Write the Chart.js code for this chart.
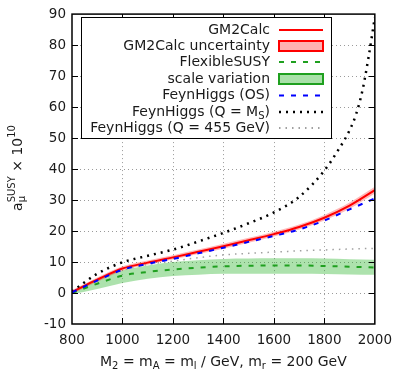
<!DOCTYPE html>
<html>
<head>
<meta charset="utf-8">
<script src="https://cdn.jsdelivr.net/npm/chart.js@4.4.1/dist/chart.umd.min.js"></script>
<style>
  html, body { margin: 0; padding: 0; background: #fff; }
  #plot { display: block; }
</style>
</head>
<body>
<canvas id="plot" width="400" height="374"></canvas>
<script>
// M2 = mA = ml in GeV
const masses = [800, 900, 1000, 1100, 1200, 1300, 1400, 1500, 1600, 1700, 1800, 1900, 2000];
const gm2calc = [0.3, 4.3, 7.9, 9.8, 11.5, 13.3, 15.1, 17.0, 19.0, 21.3, 24.3, 28.2, 33.2];
const gm2calcHigh = [0.9, 5.0, 8.6, 10.5, 12.2, 14.0, 15.9, 17.8, 19.8, 22.1, 25.2, 29.2, 34.3];
const gm2calcLow = [-0.3, 3.6, 7.2, 9.1, 10.8, 12.6, 14.3, 16.2, 18.2, 20.5, 23.4, 27.2, 32.1];
const flexibleSusy = [0.0, 3.0, 5.6, 6.8, 7.6, 8.2, 8.6, 8.8, 8.9, 8.9, 8.7, 8.5, 8.2];
const scaleHigh = [0.6, 4.6, 7.3, 8.9, 10.0, 10.6, 11.0, 11.1, 11.2, 11.2, 11.1, 10.9, 10.7];
const scaleLow = [-0.4, 1.3, 3.2, 4.6, 5.5, 5.9, 6.2, 6.2, 6.2, 6.2, 6.1, 6.0, 5.9];
const feynHiggsOS = [0.2, 4.0, 7.5, 9.4, 11.0, 12.8, 14.6, 16.5, 18.4, 20.5, 23.4, 27.0, 30.5];
const feynHiggs455 = [0.2, 4.3, 7.3, 9.2, 10.3, 11.4, 12.3, 12.8, 13.2, 13.6, 13.9, 14.2, 14.4];
// Q = M_S curve blows up near the end, so it has extra points there
const massesMS = [800, 900, 1000, 1100, 1200, 1300, 1400, 1500, 1600, 1700, 1800, 1850, 1900, 1925, 1950, 1975, 2000];
const feynHiggsMS = [0.5, 6.2, 9.9, 12.0, 14.0, 16.6, 19.4, 22.5, 26.0, 31.0, 39.5, 45.5, 52.5, 57.5, 65.0, 76.0, 89.0];

const xTicks = [800, 1000, 1200, 1400, 1600, 1800, 2000];
const yTicks = [-10, 0, 10, 20, 30, 40, 50, 60, 70, 80, 90];

const FONT = "'DejaVu Sans', sans-serif";
const TXT = 14, SMALL = 10;

const pts = (xs, ys) => xs.map((x, i) => ({ x: x, y: ys[i] }));

const RED = '#ff0000', PINK = 'rgba(255,0,0,0.28)';
const GREEN = '#1fa01f', LIGHTGREEN = 'rgba(40,180,40,0.38)';
const BLUE = '#0000ff', BLACK = '#000000', GREY = '#a0a0a0';

const legendItems = [
  { label: [{ t: 'GM2Calc' }], kind: 'line', color: RED },
  { label: [{ t: 'GM2Calc uncertainty' }], kind: 'box', color: RED, fill: 'rgba(255,0,0,0.3)' },
  { label: [{ t: 'FlexibleSUSY' }], kind: 'line', color: GREEN, dash: [5, 7] },
  { label: [{ t: 'scale variation' }], kind: 'box', color: GREEN, fill: 'rgba(40,180,40,0.4)' },
  { label: [{ t: 'FeynHiggs (OS)' }], kind: 'line', color: BLUE, dash: [5, 7] },
  { label: [{ t: 'FeynHiggs (Q = M' }, { t: 'S', sub: true }, { t: ')' }], kind: 'line', color: BLACK, dash: [2, 5], width: 2.5 },
  { label: [{ t: 'FeynHiggs (Q = 455 GeV)' }], kind: 'line', color: GREY, dash: [1.5, 5] }
];

// text with sub/superscripts
function richWidth(ctx, parts) {
  let w = 0;
  for (const p of parts) {
    ctx.font = (p.sub || p.sup ? SMALL : TXT) + 'px ' + FONT;
    let pw = ctx.measureText(p.t).width;
    if (p.sup2) { ctx.font = SMALL + 'px ' + FONT; pw = Math.max(pw, ctx.measureText(p.sup2).width); }
    w += pw;
  }
  return w;
}
function drawRich(ctx, parts, x, y, align) {
  const w = richWidth(ctx, parts);
  let cx = align === 'right' ? x - w : align === 'center' ? x - w / 2 : x;
  ctx.textAlign = 'left';
  ctx.textBaseline = 'middle';
  for (const p of parts) {
    const small = p.sub || p.sup;
    ctx.font = (small ? SMALL : TXT) + 'px ' + FONT;
    const dy = p.sub ? 4 : p.sup ? -6 : 0;
    ctx.fillText(p.t, cx, y + dy);
    let pw = ctx.measureText(p.t).width;
    if (p.sup2) {
      ctx.fillText(p.sup2, cx, y - 6);
      pw = Math.max(pw, ctx.measureText(p.sup2).width);
    }
    cx += pw;
  }
}

const framePlugin = {
  id: 'frame',
  beforeDatasetsDraw(chart) {
    const { ctx, chartArea: a, scales } = chart;
    ctx.save();
    ctx.strokeStyle = '#9a9a9a';
    ctx.lineWidth = 1;
    ctx.setLineDash([1, 3]);
    for (const v of xTicks.slice(1, -1)) {
      const px = Math.round(scales.x.getPixelForValue(v)) + 0.5;
      ctx.beginPath(); ctx.moveTo(px, a.top); ctx.lineTo(px, a.bottom); ctx.stroke();
    }
    for (const v of yTicks.slice(1, -1)) {
      const py = Math.round(scales.y.getPixelForValue(v)) + 0.5;
      ctx.beginPath(); ctx.moveTo(a.left, py); ctx.lineTo(a.right, py); ctx.stroke();
    }
    ctx.restore();
  },
  afterDatasetsDraw(chart) {
    const { ctx, chartArea: a, scales } = chart;
    ctx.save();
    // clip overshoot outside the frame
    ctx.fillStyle = '#fff';
    ctx.fillRect(a.left, 0, a.right - a.left, a.top);
    ctx.strokeStyle = '#000';
    ctx.lineWidth = 1.5;
    ctx.setLineDash([]);
    ctx.strokeRect(a.left, a.top, a.right - a.left, a.bottom - a.top);
    ctx.lineWidth = 1;
    const tl = 6;
    for (const v of xTicks.slice(1, -1)) {
      const px = Math.round(scales.x.getPixelForValue(v)) + 0.5;
      ctx.beginPath();
      ctx.moveTo(px, a.bottom); ctx.lineTo(px, a.bottom - tl);
      ctx.moveTo(px, a.top); ctx.lineTo(px, a.top + tl);
      ctx.stroke();
    }
    for (const v of yTicks.slice(1, -1)) {
      const py = Math.round(scales.y.getPixelForValue(v)) + 0.5;
      ctx.beginPath();
      ctx.moveTo(a.left, py); ctx.lineTo(a.left + tl, py);
      ctx.moveTo(a.right, py); ctx.lineTo(a.right - tl, py);
      ctx.stroke();
    }

    // legend box
    const bx = 81.5, by = 17.5, bw = 250, bh = 121;
    ctx.fillStyle = '#fff';
    ctx.fillRect(bx, by, bw, bh);
    ctx.strokeStyle = '#000';
    ctx.lineWidth = 1;
    ctx.strokeRect(bx, by, bw, bh);
    const rowY = [30, 46, 62, 79, 95.5, 112, 128];
    const sx0 = 279, sx1 = 323;
    legendItems.forEach((it, i) => {
      const y = rowY[i];
      ctx.fillStyle = '#1a1a1a';
      drawRich(ctx, it.label, 270, y, 'right');
      ctx.save();
      if (it.kind === 'box') {
        ctx.fillStyle = it.fill;
        ctx.fillRect(sx0, y - 5, sx1 - sx0, 10);
        ctx.strokeStyle = it.color;
        ctx.lineWidth = 2;
        ctx.strokeRect(sx0, y - 5, sx1 - sx0, 10);
      } else {
        ctx.strokeStyle = it.color;
        ctx.lineWidth = it.width || 2;
        ctx.setLineDash(it.dash || []);
        ctx.beginPath(); ctx.moveTo(sx0, y); ctx.lineTo(sx1, y); ctx.stroke();
      }
      ctx.restore();
    });

    // axis titles
    ctx.fillStyle = '#1a1a1a';
    drawRich(ctx, [
      { t: 'M' }, { t: '2', sub: true }, { t: ' = m' }, { t: 'A', sub: true },
      { t: ' = m' }, { t: 'l', sub: true }, { t: ' / GeV, m' }, { t: 'r', sub: true }, { t: ' = 200 GeV' }
    ], (a.left + a.right) / 2, 362, 'center');

    ctx.translate(18, 168);
    ctx.rotate(-Math.PI / 2);
    drawRich(ctx, [
      { t: 'a' }, { t: 'μ', sub: true, sup2: 'SUSY' }, { t: ' × 10' }, { t: '10', sup: true }
    ], 0, 0, 'center');
    ctx.restore();
  }
};

const lineBase = { pointRadius: 0, fill: false, cubicInterpolationMode: 'monotone', borderCapStyle: 'butt' };

new Chart(document.getElementById('plot').getContext('2d'), {
  type: 'line',
  data: {
    datasets: [
      { ...lineBase, label: 'scale low', data: pts(masses, scaleLow), borderWidth: 0, borderColor: 'transparent', order: 20 },
      { ...lineBase, label: 'scale variation', data: pts(masses, scaleHigh), borderWidth: 0, borderColor: 'transparent',
        fill: '-1', backgroundColor: LIGHTGREEN, order: 19 },
      { ...lineBase, label: 'GM2Calc low', data: pts(masses, gm2calcLow), borderWidth: 0, borderColor: 'transparent', order: 18 },
      { ...lineBase, label: 'GM2Calc uncertainty', data: pts(masses, gm2calcHigh), borderWidth: 0, borderColor: 'transparent',
        fill: '-1', backgroundColor: PINK, order: 17 },
      { ...lineBase, label: 'FeynHiggs (Q = 455 GeV)', data: pts(masses, feynHiggs455), borderColor: GREY,
        borderWidth: 1.5, borderDash: [1.5, 5], order: 16 },
      { ...lineBase, label: 'FlexibleSUSY', data: pts(masses, flexibleSusy), borderColor: GREEN,
        borderWidth: 2, borderDash: [5, 7], order: 15 },
      { ...lineBase, label: 'FeynHiggs (Q = MS)', data: pts(massesMS, feynHiggsMS), borderColor: BLACK,
        borderWidth: 2.5, borderDash: [2, 5], order: 14 },
      { ...lineBase, label: 'GM2Calc', data: pts(masses, gm2calc), borderColor: RED, borderWidth: 2, order: 13 },
      { ...lineBase, label: 'FeynHiggs (OS)', data: pts(masses, feynHiggsOS), borderColor: BLUE,
        borderWidth: 2, borderDash: [5, 7], order: 12 }
    ]
  },
  options: {
    responsive: false,
    devicePixelRatio: 1,
    animation: false,
    layout: { padding: { left: 0, right: 21, top: 12, bottom: 0 } },
    plugins: { legend: { display: false }, tooltip: { enabled: false } },
    scales: {
      x: {
        type: 'linear', min: 800, max: 2000,
        afterBuildTicks: s => { s.ticks = xTicks.map(v => ({ value: v })); },
        afterFit: s => { s.height = 50; },
        ticks: { font: { family: FONT, size: 13.5 }, color: '#1a1a1a', padding: 8, maxRotation: 0,
                 callback: v => String(v) },
        grid: { display: false, drawTicks: false },
        border: { display: false }
      },
      y: {
        type: 'linear', min: -10, max: 90,
        afterBuildTicks: s => { s.ticks = yTicks.map(v => ({ value: v })); },
        afterFit: s => { s.width = 72; },
        ticks: { font: { family: FONT, size: 13.5 }, color: '#1a1a1a', padding: 6,
                 callback: v => String(v) },
        grid: { display: false, drawTicks: false },
        border: { display: false }
      }
    }
  },
  plugins: [framePlugin]
});
</script>
</body>
</html>
